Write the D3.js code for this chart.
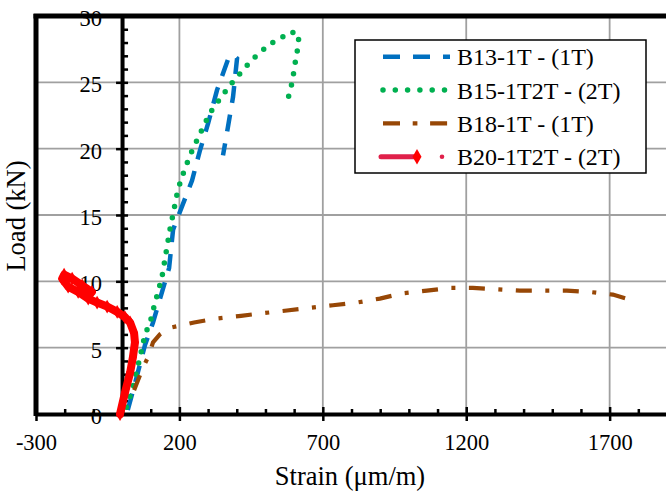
<!DOCTYPE html>
<html>
<head>
<meta charset="utf-8">
<script src="https://cdnjs.cloudflare.com/ajax/libs/d3/7.8.5/d3.min.js"></script>
<style>
body { margin: 0; background: #fff; }
svg { display: block; font-family: "Liberation Serif", "Times New Roman", serif; }
svg text { font-family: "Liberation Serif", "Times New Roman", serif; }
</style>
</head>
<body>
<svg id="chart" width="666" height="491"></svg>
<script>
// ---- values ----
var xTicks = [-300, 200, 700, 1200, 1700];
var yTicks = [0, 5, 10, 15, 20, 25, 30];
var seriesNames = ["B13-1T - (1T)", "B15-1T2T - (2T)", "B18-1T - (1T)", "B20-1T2T - (2T)"];

var b13Strain = [20, 45, 80, 108, 164, 178, 244, 272, 300, 331, 369, 387, 401, 387, 369, 352];
var b13Load   = [0.3, 2.3, 5.2, 6.9, 11.0, 13.9, 17.6, 19.9, 21.9, 24.4, 26.7, 27.1, 26.8, 23.9, 21.6, 19.5];

var b15Strain = [15, 35, 63, 80, 98, 108, 129, 139, 153, 167, 192, 202, 216, 230, 247, 265, 282, 300, 321, 348, 369, 397, 425, 453, 484, 516, 551, 589, 617, 613, 606, 599, 592, 582, 575];
var b15Load   = [0.5, 1.8, 4.3, 6.0, 6.9, 7.8, 9.5, 10.3, 12.1, 13.9, 16.6, 17.4, 18.3, 19.1, 20.0, 20.8, 21.6, 22.4, 23.2, 23.9, 24.6, 25.3, 26.0, 26.7, 27.3, 27.9, 28.3, 28.8, 28.6, 27.6, 26.8, 25.8, 24.9, 24.1, 23.2];

var b18Strain = [42, 73, 91, 108, 132, 167, 251, 331, 415, 491, 575, 655, 735, 819, 899, 979, 1063, 1143, 1223, 1307, 1387, 1467, 1551, 1631, 1711, 1774];
var b18Load   = [1.8, 3.5, 4.3, 5.4, 6.0, 6.5, 6.9, 7.2, 7.4, 7.6, 7.8, 8.0, 8.2, 8.4, 8.7, 9.1, 9.3, 9.5, 9.5, 9.4, 9.3, 9.3, 9.3, 9.2, 9.0, 8.6];

var b20Strain = [-7, 10, 28, 38, 45, 42, 28, 10, -17, -52, -87, -118, -153, -188, -209, -202, -174, -139, -105];
var b20Load   = [0, 1.6, 3.1, 4.3, 5.4, 6.1, 6.9, 7.3, 7.7, 8.1, 8.4, 8.7, 9.2, 9.6, 10.2, 10.5, 10.2, 9.7, 9.2];

// ---- setup ----
var svg = d3.select("#chart");
var x = d3.scaleLinear().domain([-300, 1900]).range([36, 667]);
var y = d3.scaleLinear().domain([0, 30]).range([414, 16]);
var serif = "Liberation Serif";

function pairs(xs, ys) {
    return xs.map(function(d, i) { return [d, ys[i]]; });
}
var line = d3.line().x(function(d) { return x(d[0]); }).y(function(d) { return y(d[1]); });

// gridlines
svg.append("g").selectAll("line").data(xTicks.slice(1)).enter().append("line")
    .attr("x1", function(d) { return x(d); }).attr("x2", function(d) { return x(d); })
    .attr("y1", y(30)).attr("y2", y(0))
    .attr("stroke", "#a0a0a0").attr("stroke-width", 1.8);
svg.append("g").selectAll("line").data(yTicks.slice(1, -1)).enter().append("line")
    .attr("x1", x(-300)).attr("x2", 667)
    .attr("y1", function(d) { return y(d); }).attr("y2", function(d) { return y(d); })
    .attr("stroke", "#a0a0a0").attr("stroke-width", 1.8);

// x axis (at load 0)
var minorX = d3.range(-200, 1900, 100).filter(function(d) { return d % 500 !== 200 && d !== -300 && d !== 0; });
var xAxis = svg.append("g").attr("transform", "translate(0," + y(0) + ")")
    .call(d3.axisBottom(x).tickValues(xTicks).tickSize(7).tickSizeOuter(0).tickPadding(13)
        .tickFormat(function(d) { return String(d); }));
xAxis.attr("font-family", serif);
xAxis.select(".domain").attr("stroke-width", 4);
xAxis.selectAll(".tick line").attr("y1", -7).attr("stroke-width", 2.5);
xAxis.selectAll(".tick text").attr("font-size", 22.5).attr("fill", "#000");
svg.append("g").attr("transform", "translate(0," + y(0) + ")")
    .call(d3.axisTop(x).tickValues(minorX).tickSize(5).tickSizeOuter(0).tickFormat(""))
    .call(function(g) { g.select(".domain").remove(); g.selectAll("line").attr("stroke-width", 2.5); });

// y axis (at strain 0)
var minorY = d3.range(1, 30).filter(function(d) { return d % 5 !== 0; });
var yAxis = svg.append("g").attr("transform", "translate(" + x(0) + ",0)")
    .call(d3.axisLeft(y).tickValues(yTicks).tickSize(6).tickSizeOuter(0).tickPadding(14)
        .tickFormat(function(d) { return String(d); }));
yAxis.attr("font-family", serif);
yAxis.select(".domain").attr("stroke-width", 4);
yAxis.selectAll(".tick line").attr("x1", 6).attr("stroke-width", 2.5);
yAxis.selectAll(".tick text").attr("font-size", 22.5).attr("fill", "#000").attr("dy", "0.42em");
svg.append("g").attr("transform", "translate(" + x(0) + ",0)")
    .call(d3.axisRight(y).tickValues(minorY).tickSize(6).tickSizeOuter(0).tickFormat(""))
    .call(function(g) { g.select(".domain").remove(); g.selectAll("line").attr("stroke-width", 2.5); });

// plot border (left + top)
svg.append("line").attr("x1", x(-300)).attr("x2", x(-300)).attr("y1", 14).attr("y2", 416)
    .attr("stroke", "#000").attr("stroke-width", 5);
svg.append("line").attr("x1", 33.5).attr("x2", 666).attr("y1", y(30)).attr("y2", y(30))
    .attr("stroke", "#000").attr("stroke-width", 5);

// series
svg.append("path").datum(pairs(b13Strain, b13Load)).attr("d", line)
    .attr("fill", "none").attr("stroke", "#0070c0").attr("stroke-width", 4.5)
    .attr("stroke-dasharray", "17 12");
svg.append("path").datum(pairs(b15Strain, b15Load)).attr("d", line)
    .attr("fill", "none").attr("stroke", "#00b050").attr("stroke-width", 5.5)
    .attr("stroke-linecap", "round").attr("stroke-dasharray", "0 11.5");
svg.append("path").datum(pairs(b18Strain, b18Load)).attr("d", line)
    .attr("fill", "none").attr("stroke", "#974706").attr("stroke-width", 4.2)
    .attr("stroke-dasharray", "16 13.5 4 13.5");
svg.append("path").datum(pairs(b20Strain, b20Load)).attr("d", line)
    .attr("fill", "none").attr("stroke", "#ff0000").attr("stroke-width", 8)
    .attr("stroke-linejoin", "round").attr("stroke-linecap", "round");
svg.append("g").selectAll("path").data(pairs(b20Strain, b20Load)).enter().append("path")
    .attr("d", d3.symbol(d3.symbolDiamond, 55))
    .attr("transform", function(d) { return "translate(" + x(d[0]) + "," + y(d[1]) + ")"; })
    .attr("fill", "#ff0000");

// axis titles
svg.append("text").attr("x", 350).attr("y", 485).attr("text-anchor", "middle")
    .attr("font-family", serif).attr("font-size", 26.5).text("Strain (\u03bcm/m)");
svg.append("text").attr("transform", "translate(25,216) rotate(-90)").attr("text-anchor", "middle")
    .attr("font-family", serif).attr("font-size", 26.5).text("Load (kN)");

// legend
var legend = svg.append("g").attr("font-family", serif);
legend.append("rect").attr("x", 355).attr("y", 40).attr("width", 291).attr("height", 133)
    .attr("fill", "#fff").attr("stroke", "#000").attr("stroke-width", 1.5);
var rowY = [56.7, 90, 123.3, 156.7];
legend.selectAll("text").data(seriesNames).enter().append("text")
    .attr("x", 457).attr("y", function(d, i) { return rowY[i] + 8.5; })
    .attr("font-size", 24).text(function(d) { return d; });
legend.append("line").attr("x1", 383).attr("x2", 450).attr("y1", rowY[0]).attr("y2", rowY[0])
    .attr("stroke", "#0070c0").attr("stroke-width", 4.5).attr("stroke-dasharray", "17 13");
legend.append("line").attr("x1", 383).attr("x2", 446).attr("y1", rowY[1]).attr("y2", rowY[1])
    .attr("stroke", "#00b050").attr("stroke-width", 5.5).attr("stroke-linecap", "round")
    .attr("stroke-dasharray", "0 12.3");
legend.append("line").attr("x1", 383).attr("x2", 450).attr("y1", rowY[2]).attr("y2", rowY[2])
    .attr("stroke", "#974706").attr("stroke-width", 4.2).attr("stroke-dasharray", "17 12.7 4.7 12.7");
legend.append("line").attr("x1", 381).attr("x2", 417).attr("y1", rowY[3]).attr("y2", rowY[3])
    .attr("stroke", "#e0204a").attr("stroke-width", 5).attr("stroke-linecap", "round");
legend.append("path").attr("d", d3.symbol(d3.symbolDiamond, 70))
    .attr("transform", "translate(417," + rowY[3] + ")").attr("fill", "#ff0000");
legend.append("circle").attr("cx", 442).attr("cy", rowY[3]).attr("r", 2.3).attr("fill", "#e0204a");
</script>
</body>
</html>
